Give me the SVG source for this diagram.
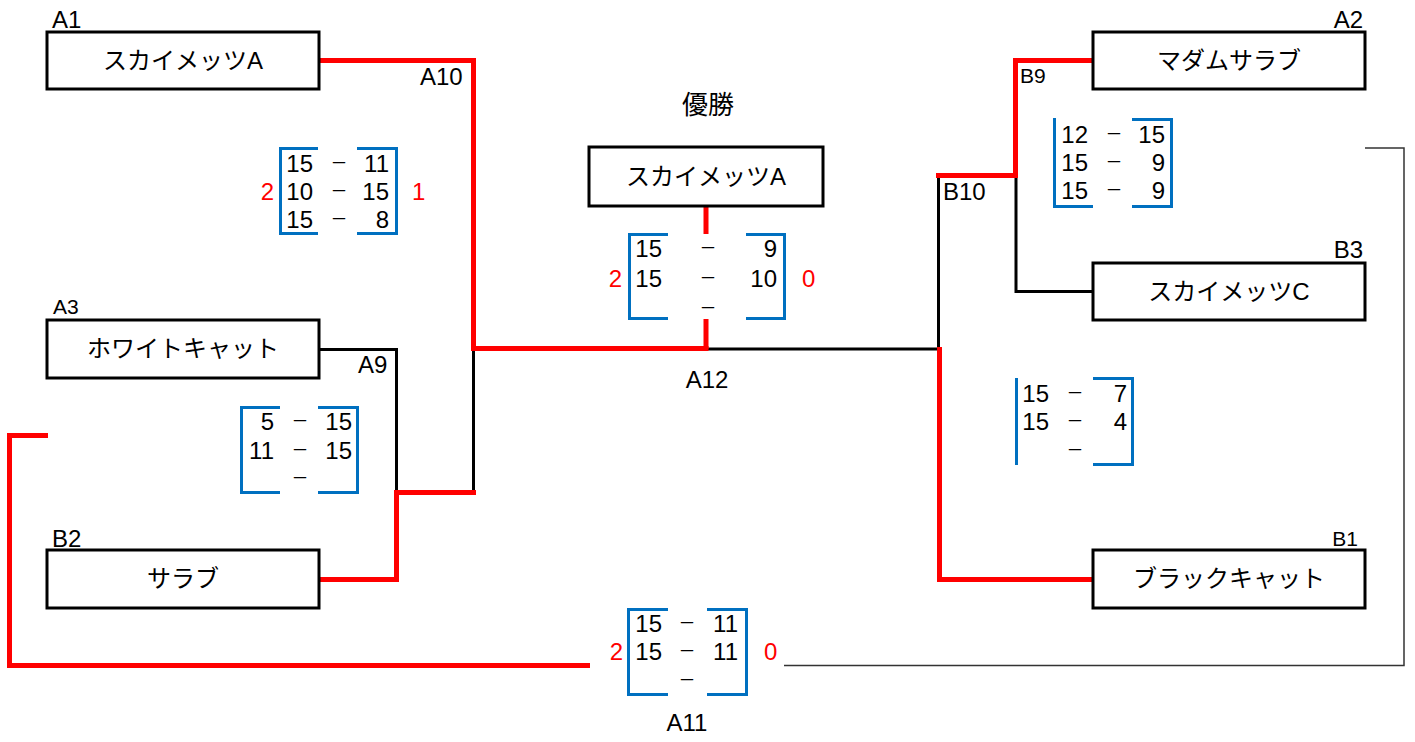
<svg xmlns="http://www.w3.org/2000/svg" width="1415" height="742" viewBox="0 0 1415 742">
<style>
.box{fill:#fff;stroke:#000;stroke-width:3}
.team{font-family:"Liberation Sans","Noto Sans CJK JP",sans-serif;font-size:24px;fill:#000;text-anchor:middle}
.lbl{font-family:"Liberation Sans","Noto Sans CJK JP",sans-serif;font-size:24px;fill:#000}
.lbs{font-family:"Liberation Sans","Noto Sans CJK JP",sans-serif;font-size:21px;fill:#000}
.num{font-family:"Liberation Sans",sans-serif;font-size:24px;fill:#000;text-anchor:end}
.dash{font-family:"Noto Sans CJK JP",sans-serif;font-size:17px;fill:#000;text-anchor:middle}
.win{font-family:"Liberation Sans",sans-serif;font-size:24px;fill:#f00}
.br{fill:none;stroke:#0070C0;stroke-width:3}
.red{fill:none;stroke:#f00;stroke-width:5}
.blk{fill:none;stroke:#000;stroke-width:3}
.thin{fill:none;stroke:#333;stroke-width:1.5}
</style>
<g id="connectors">
<path class="blk" d="M319 349.5H396.5V493"/>
<path class="blk" d="M473.5 349V493"/>
<path class="blk" d="M706 349H939"/>
<path class="blk" d="M938.5 176V349"/>
<path class="blk" d="M1016 176V291.5H1093"/>
<path class="red" d="M319 60.5H473.5V348.5H708.5"/>
<path class="red" d="M706 206V234M706 319V349"/>
<path class="red" d="M319 579.5H396.5V492.5H476"/>
<path class="red" d="M48 435.5H9.5V665.5H590"/>
<path class="red" d="M1093 60.5H1015.5V175.5H936"/>
<path class="red" d="M1093 579.5H939.5V347"/>
<path class="thin" d="M784 665.5H1404V148H1365"/>
</g>
<g id="title"><text x="708" y="114" font-family="Noto Sans CJK JP,sans-serif" font-size="26" text-anchor="middle">優勝</text></g>
<g id="A1"><rect class="box" x="47" y="32" width="272" height="57"/><text class="team" x="183" y="69">スカイメッツA</text><text class="lbl" x="52" y="28">A1</text></g>
<g id="A3"><rect class="box" x="47" y="320" width="272" height="58"/><text class="team" x="183" y="357">ホワイトキャット</text><text class="lbs" x="53" y="314">A3</text></g>
<g id="B2"><rect class="box" x="47" y="550" width="272" height="58"/><text class="team" x="183" y="587">サラブ</text><text class="lbl" x="52" y="547">B2</text></g>
<g id="champion"><rect class="box" x="589" y="147" width="234" height="59"/><text class="team" x="706" y="185">スカイメッツA</text></g>
<g id="A2"><rect class="box" x="1093" y="32" width="272" height="57"/><text class="team" x="1229" y="69">マダムサラブ</text><text class="lbl" x="1363" y="28" text-anchor="end">A2</text></g>
<g id="B3"><rect class="box" x="1093" y="263" width="272" height="57"/><text class="team" x="1229" y="300">スカイメッツC</text><text class="lbl" x="1363" y="258" text-anchor="end">B3</text></g>
<g id="B1"><rect class="box" x="1093" y="550" width="272" height="58"/><text class="team" x="1229" y="587">ブラックキャット</text><text class="lbs" x="1358" y="546" text-anchor="end">B1</text></g>
<g id="A10">
<path class="br" d="M318 148.5H280.5V233.5H318M357 148.5H396.5V233.5H357"/>
<text class="num" x="313" y="172">15</text><text class="dash" x="339" y="169">－</text><text class="num" x="389" y="172">11</text>
<text class="num" x="313" y="200">10</text><text class="dash" x="339" y="197">－</text><text class="num" x="389" y="200">15</text>
<text class="num" x="313" y="228">15</text><text class="dash" x="339" y="225">－</text><text class="num" x="389" y="228">8</text>
<text class="win" x="274" y="200" text-anchor="end">2</text><text class="win" x="412" y="200">1</text>
<text class="lbl" x="420" y="85">A10</text>
</g>
<g id="A9">
<path class="br" d="M280 407.5H241.5V492.5H280M318 407.5H357.5V492.5H318"/>
<text class="num" x="274" y="430">5</text><text class="dash" x="300" y="427">－</text><text class="num" x="352" y="430">15</text>
<text class="num" x="274" y="459">11</text><text class="dash" x="300" y="456">－</text><text class="num" x="352" y="459">15</text>
<text class="dash" x="300" y="484">－</text>
<text class="lbl" x="358" y="373">A9</text>
</g>
<g id="A12">
<path class="br" d="M668 234.5H629.5V318.5H668M746 234.5H784.5V318.5H746"/>
<text class="num" x="662" y="257">15</text><text class="dash" x="708" y="254">－</text><text class="num" x="777" y="257">9</text>
<text class="num" x="662" y="287">15</text><text class="dash" x="708" y="284">－</text><text class="num" x="777" y="287">10</text>
<text class="dash" x="708" y="314">－</text>
<text class="win" x="622" y="287" text-anchor="end">2</text><text class="win" x="802" y="287">0</text>
<text class="lbl" x="707" y="388" text-anchor="middle">A12</text>
</g>
<g id="A11">
<path class="br" d="M668 609.5H628.5V694.5H668M707 609.5H746.5V694.5H707"/>
<text class="num" x="662" y="632">15</text><text class="dash" x="687" y="629">－</text><text class="num" x="738" y="632">11</text>
<text class="num" x="662" y="660">15</text><text class="dash" x="687" y="657">－</text><text class="num" x="738" y="660">11</text>
<text class="dash" x="687" y="686">－</text>
<text class="win" x="623" y="660" text-anchor="end">2</text><text class="win" x="764" y="660">0</text>
<text class="lbl" x="687" y="731" text-anchor="middle">A11</text>
</g>
<g id="B9">
<path class="br" d="M1054.5 118V206.5H1093M1132 119.5H1171.5V206.5H1132"/>
<text class="num" x="1088" y="143">12</text><text class="dash" x="1114" y="140">－</text><text class="num" x="1165" y="143">15</text>
<text class="num" x="1088" y="171">15</text><text class="dash" x="1114" y="168">－</text><text class="num" x="1165" y="171">9</text>
<text class="num" x="1088" y="199">15</text><text class="dash" x="1114" y="196">－</text><text class="num" x="1165" y="199">9</text>
<text class="lbs" x="1020" y="83">B9</text>
</g>
<g id="B10">
<path class="br" d="M1016.5 378V465M1093 378.5H1132.5V464.5H1093"/>
<text class="num" x="1049" y="402">15</text><text class="dash" x="1075" y="399">－</text><text class="num" x="1127" y="402">7</text>
<text class="num" x="1049" y="430">15</text><text class="dash" x="1075" y="427">－</text><text class="num" x="1127" y="430">4</text>
<text class="dash" x="1075" y="456">－</text>
<text class="lbl" x="943" y="200">B10</text>
</g>
</svg>
